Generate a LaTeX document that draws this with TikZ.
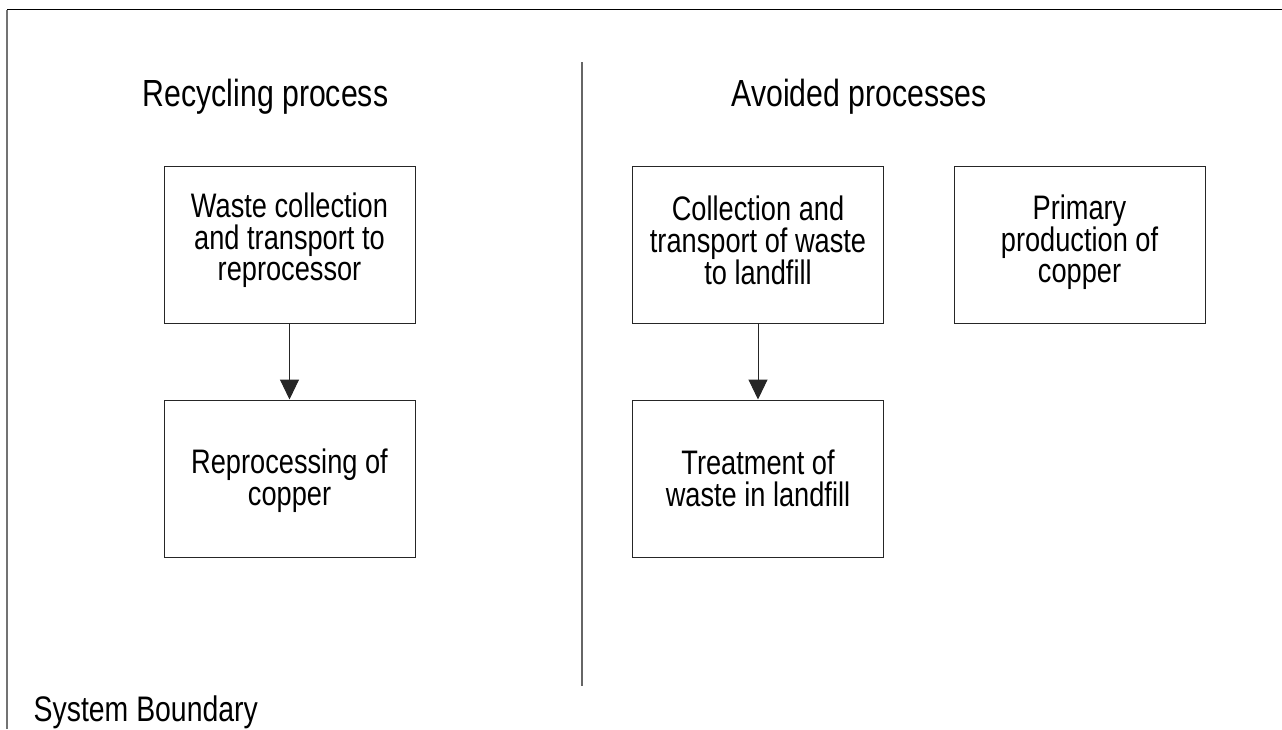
\documentclass[tikz,border=0pt]{standalone}
\usepackage{fontspec}
\setmainfont{Liberation Sans}
\newfontfamily\condfont[FakeStretch=0.8]{Liberation Sans}
\newcommand\tightlines{\lineskiplimit=-100pt\relax}
\usetikzlibrary{arrows.meta}
\tikzset{
  procbox/.style={draw=black!85, line width=1pt, rectangle, minimum width=251pt, minimum height=157pt, inner sep=0pt},
  boxtext/.style={inner sep=0pt, align=center, font=\condfont\fontsize{34}{31.7}\selectfont\tightlines},
  title/.style={anchor=base, inner sep=0pt, font=\condfont\fontsize{37.8}{40}\selectfont},
  flow/.style={draw=black!85, line width=1pt, -{Triangle[width=19pt,length=20pt]}},
  boundary/.style={draw=black!55, line width=1.5pt},
  divider/.style={draw=black!60, line width=1.3pt}
}
\begin{document}
\begin{tikzpicture}[x=1pt,y=-1pt]
\useasboundingbox (0,0) rectangle (1282,729);
% system boundary
\coordinate (bl) at (7,729);
\coordinate (tl) at (7,9.5);
\coordinate (tr) at (1282,9.5);
\draw[boundary] (bl) -- (tl);
\draw[draw=black, line width=1.8pt] (tl) -- (tr);
\node[anchor=base west, inner sep=0pt, font=\condfont\fontsize{35.5}{38}\selectfont] (sb) at (33.5,721) {System Boundary};
% divider
\coordinate (dtop) at (582,62);
\coordinate (dbot) at (582,686);
\draw[divider] (dtop) -- (dbot);
% titles
\node[title] (t1) at (265.5,106) {Recycling process};
\node[title] (t2) at (859,106) {Avoided processes};
% boxes
\node[procbox] (b1) at (289.5,244.5) {};
\node[procbox] (b2) at (289.5,478.5) {};
\node[procbox] (b3) at (758,244.5) {};
\node[procbox] (b4) at (758,478.5) {};
\node[procbox] (b5) at (1079.5,244.5) {};
% box texts
\node[boxtext] (b1t) at ([yshift=4pt]b1.center) {Waste collection\\and transport to\\reprocessor};
\node[boxtext] (b2t) at ([yshift=-2pt]b2.center) {Reprocessing of\\copper};
\node[boxtext] (b3t) at ([yshift=4pt]b3.center) {Collection and\\transport of waste\\to landfill};
\node[boxtext] (b4t) at (b4.center) {Treatment of\\waste in landfill};
\node[boxtext] (b5t) at ([yshift=2pt]b5.center) {Primary\\production of\\copper};
% arrows
\draw[flow] (b1.south) -- (b2.north);
\draw[flow] (b3.south) -- (b4.north);
\end{tikzpicture}
\end{document}
